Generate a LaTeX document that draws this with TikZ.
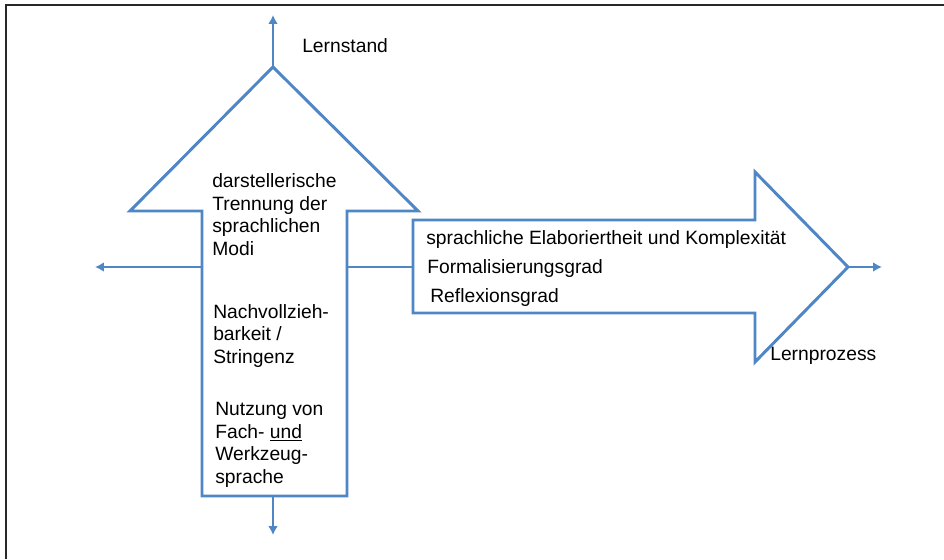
\documentclass[tikz,border=0pt]{standalone}
\usepackage{fontspec}
\setmainfont{Liberation Sans}
\usetikzlibrary{arrows.meta,calc,positioning}
\definecolor{axisBlue}{RGB}{79,134,198}
\definecolor{frameGray}{RGB}{40,40,40}
\tikzset{
  bigarrow/.style={draw=axisBlue, line width=2.1pt, line join=miter, fill=white},
  axisarrow/.style={-{Latex[length=2.2mm,width=2.4mm]}, line width=1.8pt, draw=axisBlue},
  axisline/.style={line width=1.8pt, draw=axisBlue},
  txt/.style={inner sep=0pt, anchor=base west, align=left,
    font=\fontsize{13.7pt}{15.9pt}\selectfont}
}

\begin{document}
\begin{tikzpicture}[x=0.025cm,y=-0.025cm]
    \useasboundingbox (0,0) rectangle (944,559);
    \draw[frameGray, line width=1.8pt] (6,559) -- (6,5) -- (944,5);
    % vertical arrow: Lernstand
    \coordinate (apex) at (273,67);
    \coordinate (upfoot) at (273,496);
    \coordinate (upleft) at (202,267);
    \coordinate (upright) at (347,267);
    \draw[bigarrow] (202,496) -- (202,211) -- (130,211) -- (apex) -- (418,211)
      -- (347,211) -- (347,496) -- cycle;
    % horizontal arrow: Lernprozess
    \coordinate (tip) at (848,267);
    \coordinate (rboxleft) at (413,267);
    \draw[bigarrow] (413,220) -- (755,220) -- (755,172) -- (tip) -- (755,362)
      -- (755,313) -- (413,313) -- cycle;
    % axes
    \coordinate (top) at (273,15);
    \coordinate (bottom) at (273,535);
    \coordinate (left) at (95,267);
    \coordinate (right) at (882,267);
    \draw[axisarrow] (apex) -- (top);
    \draw[axisarrow] (upfoot) -- (bottom);
    \draw[axisarrow] (upleft) -- (left);
    \draw[axisarrow] (tip) -- (right);
    \draw[axisline] (upright) -- (rboxleft);
    % labels (base = last line)
    \node[txt] (lernstand) at (302,52) {Lernstand};
    \node[txt] (lernprozess) at (770,360) {Lernprozess};
    \node[txt] (modi) at (212,255) {darstellerische\\Trennung der\\sprachlichen\\Modi};
    \node[txt] (stringenz) at (213,363) {Nachvollzieh-\\barkeit /\\Stringenz};
    \node[txt] (sprache) at (215,483) {Nutzung von\\Fach- \underline{und}\\Werkzeug-\\sprache};
    \node[txt] (elab) at (426,244) {sprachliche Elaboriertheit und Komplexität};
    \node[txt] (formal) at (427,273) {Formalisierungsgrad};
    \node[txt] (reflex) at (430,302) {Reflexionsgrad};
  \end{tikzpicture}
\end{document}
